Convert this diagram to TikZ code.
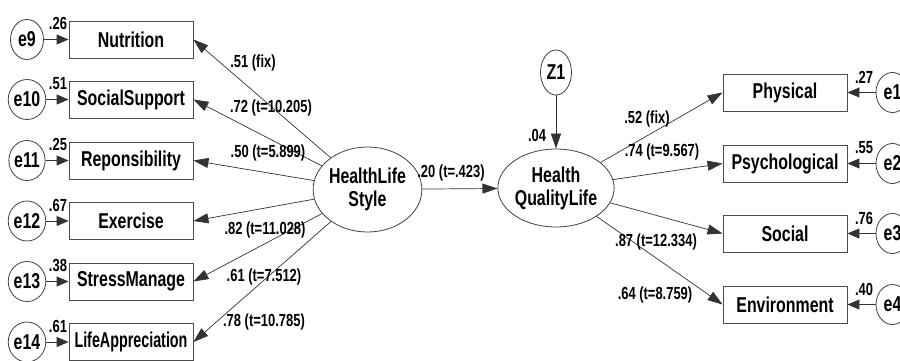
\documentclass[tikz,border=0pt]{standalone}
\usepackage{fontspec}
\setmainfont{Liberation Sans}[FakeStretch=0.74]
\usetikzlibrary{arrows.meta,shapes.geometric}
\tikzset{
  big/.style={font=\fontsize{21.5}{23}\selectfont\bfseries},
  small/.style={font=\fontsize{17.5}{19}\selectfont\bfseries, inner sep=0pt},
  obs/.style={draw=black!70, line width=0.9pt, minimum width=124pt, minimum height=37pt, inner sep=0pt, big},
  err/.style={ellipse, draw=black!75, line width=0.8pt, minimum width=33pt, minimum height=40pt, inner sep=0pt, big},
  lat/.style={ellipse, draw=black!75, line width=0.8pt, inner sep=0pt, big, align=center},
  path/.style={draw=black!80, line width=0.7pt, -{Triangle[length=15pt,width=10pt]}},
  earr/.style={draw=black!80, line width=0.9pt, -{Triangle[length=12pt,width=10pt]}}
}
\begin{document}
\begin{tikzpicture}[x=1pt,y=-1pt]
\useasboundingbox (0,0) rectangle (900,361);
% left observed
\node[obs] (nut) at (131,39.5) {Nutrition};
\node[obs] (soc) at (131,99.5) {SocialSupport};
\node[obs] (rep) at (131,160.5) {Reponsibility};
\node[obs] (exe) at (131,221) {Exercise};
\node[obs] (str) at (131,281.5) {StressManage};
\node[obs] (lif) at (131,342) {\scalebox{0.9}[1]{LifeAppreciation}};
% left errors
\node[err] (e9) at (27,39.5) {e9};
\node[err] (e10) at (27,99.5) {e10};
\node[err] (e11) at (27,160.5) {e11};
\node[err] (e12) at (27,221) {e12};
\node[err] (e13) at (27,281.5) {e13};
\node[err] (e14) at (27,342) {e14};
\foreach \e/\b in {e9/nut,e10/soc,e11/rep,e12/exe,e13/str,e14/lif}
  \draw[earr] (\e) -- (\b.west);
% left R2
\node[small] (r9) at (58,23) {.26};
\node[small] (r10) at (58,83.5) {.51};
\node[small] (r11) at (58,144) {.25};
\node[small] (r12) at (58,205) {.67};
\node[small] (r13) at (58,265.5) {.38};
\node[small] (r14) at (58,326) {.61};
% latents
\node[lat, minimum width=99pt, minimum height=85pt] (hls) at (367.5,189.5) {HealthLife\\Style};
\node[lat, minimum width=95pt, minimum height=78pt] (hql) at (556,188) {Health\\QualityLife};
\node[err, minimum width=31pt, minimum height=45pt] (z1) at (556,72.5) {Z1};
\draw[path] (z1) -- (hql);
\node[small] (r04) at (537,135) {.04};
\draw[path] (hls) -- (hql);
\node[small] (b20) at (451,173) {.20 (t=.423)};
% left loadings
\foreach \b in {nut,soc,rep,exe,str,lif}
  \draw[path] (hls) -- (\b.east);
\node[small] (l1) at (253,63) {.51 (fix)};
\node[small] (l2) at (271,108) {.72 (t=10.205)};
\node[small] (l3) at (268,153) {.50 (t=5.899)};
\node[small] (l4) at (265,230) {.82 (t=11.028)};
\node[small] (l5) at (264,277) {.61 (t=7.512)};
\node[small] (l6) at (264,322) {.78 (t=10.785)};
% right observed
\node[obs] (phy) at (785,92.5) {Physical};
\node[obs] (psy) at (785,163.5) {Psychological};
\node[obs] (sol) at (785,233.5) {Social};
\node[obs] (env) at (785,304.5) {Environment};
\node[err] (e1) at (892.5,92.5) {e1};
\node[err] (e2) at (892.5,163.5) {e2};
\node[err] (e3) at (892.5,233.5) {e3};
\node[err] (e4) at (892.5,304.5) {e4};
\foreach \e/\b in {e1/phy,e2/psy,e3/sol,e4/env}
  \draw[earr] (\e) -- (\b.east);
\node[small] (r1) at (864,77) {.27};
\node[small] (r2) at (864,148) {.55};
\node[small] (r3) at (864,218) {.76};
\node[small] (r4) at (864,289) {.40};
\foreach \b in {phy,psy,sol,env}
  \draw[path] (hql) -- (\b.west);
\node[small] (m1) at (647,119) {.52 (fix)};
\node[small] (m2) at (662,152) {.74 (t=9.567)};
\node[small] (m3) at (656,242) {.87 (t=12.334)};
\node[small] (m4) at (655,295) {.64 (t=8.759)};
\end{tikzpicture}
\end{document}
